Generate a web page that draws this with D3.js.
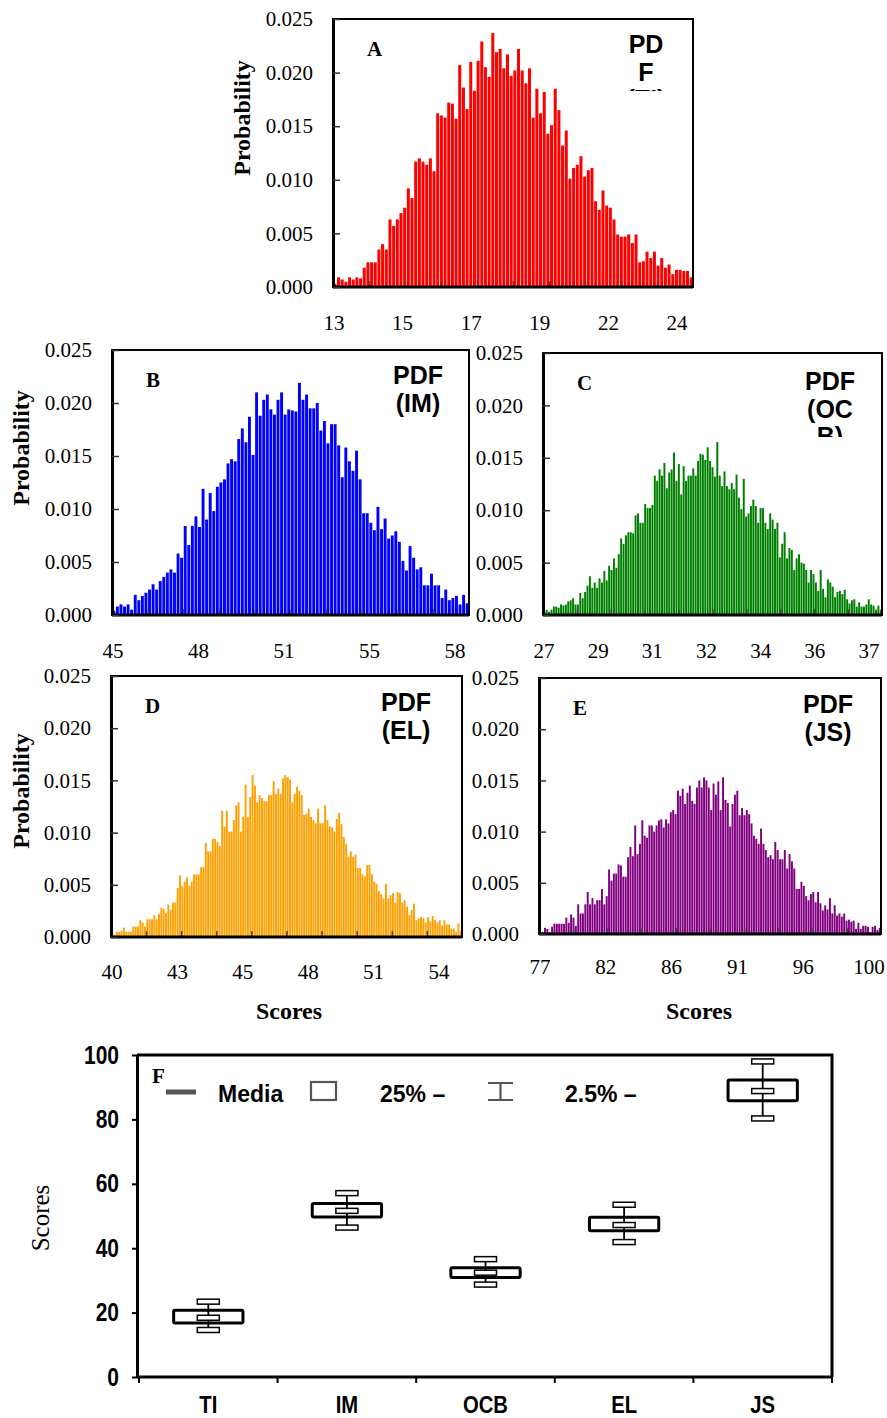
<!DOCTYPE html>
<html>
<head>
<meta charset="utf-8">
<script src="https://cdn.jsdelivr.net/npm/d3@7"></script>
<style>
  body { margin: 0; background: #fff; }
  svg { display: block; }
</style>
</head>
<body>
<script>
// Probability per score bin
const tiProb = [0.0003,0.0009,0.0007,0.0005,0.0009,0.0007,0.0009,0.0008,0.0018,0.0023,
  0.0023,0.0023,0.0035,0.0040,0.0035,0.0063,0.0057,0.0063,0.0069,0.0074,
  0.0092,0.0083,0.0117,0.0120,0.0117,0.0114,0.0120,0.0108,0.0162,0.0160,
  0.0158,0.0172,0.0171,0.0157,0.0207,0.0186,0.0166,0.0210,0.0183,0.0211,
  0.0229,0.0205,0.0196,0.0237,0.0219,0.0222,0.0204,0.0217,0.0197,0.0202,
  0.0222,0.0202,0.0190,0.0204,0.0158,0.0185,0.0162,0.0182,0.0143,0.0151,
  0.0185,0.0165,0.0132,0.0146,0.0101,0.0111,0.0114,0.0122,0.0103,0.0109,
  0.0111,0.0080,0.0072,0.0090,0.0076,0.0074,0.0063,0.0049,0.0047,0.0047,
  0.0049,0.0041,0.0049,0.0023,0.0024,0.0033,0.0027,0.0033,0.0020,0.0027,
  0.0018,0.0021,0.0012,0.0016,0.0016,0.0015,0.0015,0.0009]

const imProb = [0.0004,0.0008,0.0010,0.0008,0.0010,0.0005,0.0019,0.0014,0.0018,0.0021,
  0.0024,0.0029,0.0024,0.0032,0.0036,0.0040,0.0043,0.0040,0.0058,0.0054,
  0.0084,0.0066,0.0084,0.0093,0.0083,0.0119,0.0090,0.0115,0.0098,0.0121,
  0.0125,0.0128,0.0143,0.0147,0.0145,0.0166,0.0176,0.0163,0.0187,0.0151,
  0.0210,0.0188,0.0203,0.0208,0.0194,0.0189,0.0203,0.0210,0.0189,0.0194,
  0.0193,0.0192,0.0219,0.0203,0.0208,0.0195,0.0195,0.0200,0.0174,0.0183,
  0.0162,0.0180,0.0180,0.0160,0.0130,0.0158,0.0145,0.0136,0.0155,0.0128,
  0.0096,0.0096,0.0087,0.0080,0.0102,0.0081,0.0091,0.0072,0.0075,0.0079,
  0.0069,0.0051,0.0042,0.0065,0.0054,0.0043,0.0045,0.0028,0.0028,0.0039,
  0.0028,0.0028,0.0016,0.0024,0.0014,0.0016,0.0018,0.0010,0.0019,0.0011]

const ocbProb = [0.0003,0.0005,0.0003,0.0005,0.0008,0.0008,0.0007,0.0010,0.0009,0.0010,
  0.0013,0.0014,0.0016,0.0010,0.0010,0.0021,0.0016,0.0022,0.0028,0.0037,
  0.0026,0.0031,0.0026,0.0035,0.0031,0.0042,0.0033,0.0047,0.0043,0.0054,
  0.0045,0.0058,0.0073,0.0068,0.0076,0.0079,0.0079,0.0078,0.0095,0.0097,
  0.0088,0.0088,0.0106,0.0102,0.0102,0.0105,0.0133,0.0128,0.0139,0.0133,
  0.0145,0.0121,0.0136,0.0139,0.0155,0.0128,0.0144,0.0115,0.0142,0.0128,
  0.0133,0.0133,0.0140,0.0133,0.0147,0.0154,0.0153,0.0148,0.0160,0.0147,
  0.0141,0.0132,0.0165,0.0133,0.0123,0.0137,0.0123,0.0120,0.0126,0.0120,
  0.0134,0.0112,0.0101,0.0130,0.0094,0.0097,0.0104,0.0110,0.0104,0.0088,
  0.0102,0.0102,0.0088,0.0082,0.0097,0.0091,0.0082,0.0088,0.0055,0.0068,
  0.0079,0.0054,0.0064,0.0062,0.0043,0.0054,0.0058,0.0050,0.0049,0.0043,
  0.0031,0.0043,0.0039,0.0031,0.0023,0.0043,0.0025,0.0017,0.0034,0.0031,
  0.0027,0.0017,0.0022,0.0023,0.0020,0.0024,0.0015,0.0011,0.0014,0.0015,
  0.0008,0.0012,0.0008,0.0008,0.0010,0.0015,0.0010,0.0009,0.0005,0.0009,
  0.0005]

const elProb = [0.0002,0.0002,0.0005,0.0005,0.0006,0.0009,0.0005,0.0005,0.0005,0.0010,
  0.0010,0.0010,0.0016,0.0014,0.0010,0.0017,0.0017,0.0017,0.0021,0.0017,
  0.0022,0.0028,0.0027,0.0023,0.0031,0.0026,0.0033,0.0033,0.0047,0.0059,
  0.0049,0.0053,0.0057,0.0049,0.0053,0.0060,0.0060,0.0060,0.0067,0.0067,
  0.0090,0.0082,0.0082,0.0094,0.0094,0.0091,0.0087,0.0121,0.0106,0.0121,
  0.0101,0.0101,0.0112,0.0126,0.0129,0.0101,0.0115,0.0146,0.0115,0.0134,
  0.0155,0.0145,0.0129,0.0136,0.0133,0.0130,0.0130,0.0136,0.0136,0.0149,
  0.0137,0.0142,0.0137,0.0152,0.0155,0.0153,0.0151,0.0129,0.0137,0.0144,
  0.0140,0.0136,0.0117,0.0118,0.0123,0.0115,0.0112,0.0109,0.0123,0.0109,
  0.0109,0.0126,0.0112,0.0106,0.0105,0.0101,0.0113,0.0119,0.0108,0.0096,
  0.0089,0.0077,0.0082,0.0077,0.0079,0.0066,0.0066,0.0060,0.0058,0.0069,
  0.0069,0.0060,0.0053,0.0051,0.0044,0.0041,0.0037,0.0051,0.0037,0.0040,
  0.0042,0.0033,0.0043,0.0042,0.0033,0.0035,0.0029,0.0021,0.0026,0.0032,
  0.0016,0.0018,0.0019,0.0018,0.0014,0.0019,0.0015,0.0020,0.0016,0.0014,
  0.0016,0.0011,0.0016,0.0012,0.0012,0.0008,0.0008,0.0005,0.0013,0.0006]

const jsProb = [0.0002,0.0002,0.0006,0.0005,0.0002,0.0007,0.0010,0.0010,0.0010,0.0010,
  0.0010,0.0016,0.0011,0.0019,0.0016,0.0008,0.0029,0.0020,0.0020,0.0029,
  0.0041,0.0029,0.0035,0.0029,0.0033,0.0033,0.0044,0.0029,0.0037,0.0063,
  0.0052,0.0059,0.0059,0.0068,0.0067,0.0056,0.0056,0.0075,0.0085,0.0076,
  0.0106,0.0078,0.0088,0.0111,0.0096,0.0094,0.0106,0.0106,0.0100,0.0106,
  0.0111,0.0112,0.0104,0.0112,0.0108,0.0119,0.0121,0.0117,0.0140,0.0135,
  0.0142,0.0127,0.0138,0.0145,0.0130,0.0127,0.0143,0.0150,0.0143,0.0153,
  0.0150,0.0143,0.0121,0.0147,0.0136,0.0149,0.0121,0.0153,0.0131,0.0128,
  0.0105,0.0127,0.0136,0.0140,0.0116,0.0123,0.0116,0.0121,0.0117,0.0108,
  0.0096,0.0093,0.0088,0.0103,0.0088,0.0082,0.0075,0.0077,0.0073,0.0090,
  0.0082,0.0073,0.0073,0.0082,0.0064,0.0078,0.0071,0.0064,0.0044,0.0044,
  0.0051,0.0047,0.0037,0.0033,0.0039,0.0041,0.0031,0.0041,0.0030,0.0023,
  0.0028,0.0024,0.0035,0.0020,0.0028,0.0018,0.0020,0.0017,0.0020,0.0013,
  0.0014,0.0012,0.0013,0.0005,0.0011,0.0005,0.0008,0.0008,0.0007,0.0002,
  0.0007,0.0008,0.0004,0.0006]

// x tick labels of each histogram
const tiLabels = ["13", "15", "17", "19", "22", "24"]
const imLabels = ["45", "48", "51", "55", "58"]
const ocbLabels = ["27", "29", "31", "32", "34", "36", "37"]
const elLabels = ["40", "43", "45", "48", "51", "54"]
const jsLabels = ["77", "82", "86", "91", "96", "100"]
const probTicks = [0, 0.005, 0.010, 0.015, 0.020, 0.025]

// panel F: percentiles of each variable
const boxCats = ["TI", "IM", "OCB", "EL", "JS"]
const p2_5 = [14.6, 46.4, 28.7, 41.9, 80.3]
const q25 = [16.8, 49.7, 30.9, 45.4, 85.8]
const median = [18.4, 51.6, 32.4, 47.2, 88.8]
const q75 = [20.7, 53.9, 33.9, 49.6, 92.2]
const p97_5 = [23.4, 57.1, 36.6, 53.5, 98.0]
const scoreTicks = [0, 20, 40, 60, 80, 100]

const SERIF = '"Liberation Serif", "Times New Roman", serif'
const SANS = '"Liberation Sans", Arial, sans-serif'

const svg = d3.select("body").append("svg")
    .attr("width", 887)
    .attr("height", 1418)

const panels = [
    { letter: "A", data: tiProb, labels: tiLabels, color: "#ff0000", pdf: ["PD", "F", "(TI)"],
      x0: 333, x1: 693, y0: 19, y1: 287, labelEnd: 677, labelY: 330, pdfX: 646, pdfY: 53, clipY: 91, ylab: [250, 118] },
    { letter: "B", data: imProb, labels: imLabels, color: "#0000ff", pdf: ["PDF", "(IM)"],
      x0: 112, x1: 469, y0: 350, y1: 615, labelEnd: 455, labelY: 658, pdfX: 418, pdfY: 384, clipY: 440, ylab: [29, 448] },
    { letter: "C", data: ocbProb, labels: ocbLabels, color: "#008000", pdf: ["PDF", "(OC", "B)"],
      x0: 543, x1: 882, y0: 353, y1: 615, labelEnd: 869, labelY: 658, pdfX: 830, pdfY: 390, clipY: 437, ylab: null },
    { letter: "D", data: elProb, labels: elLabels, color: "#ffa000", pdf: ["PDF", "(EL)"],
      x0: 111, x1: 462, y0: 676, y1: 937, labelEnd: 439, labelY: 979, pdfX: 406, pdfY: 711, clipY: 760, ylab: [29, 791], xlab: [289, 1019] },
    { letter: "E", data: jsProb, labels: jsLabels, color: "#800080", pdf: ["PDF", "(JS)"],
      x0: 539, x1: 881, y0: 678, y1: 934, labelEnd: 869, labelY: 974, pdfX: 828, pdfY: 713, clipY: 760, ylab: null, xlab: [699, 1019] }
]

// squeeze bold sans text, the original uses a narrow face
function narrow(sel, f) {
    sel.each(function () {
        const w = this.getComputedTextLength()
        d3.select(this).attr("textLength", w * f).attr("lengthAdjust", "spacingAndGlyphs")
    })
}

function histogram(p, k) {
    const g = svg.append("g")

    const x = d3.scaleBand()
        .domain(d3.range(p.data.length))
        .range([p.x0, p.x1])
        .paddingInner(0.18)
        .paddingOuter(0.1)
    const y = d3.scaleLinear()
        .domain([0, 0.025])
        .range([p.y1, p.y0])

    g.selectAll(".bar")
        .data(p.data)
        .join("rect")
        .attr("class", "bar")
        .attr("x", (d, i) => x(i))
        .attr("width", x.bandwidth())
        .attr("y", d => y(d))
        .attr("height", d => y(0) - y(d))
        .attr("fill", p.color)

    // small tick marks inside the bottom edge
    const t = d3.scaleLinear().domain([0, 10]).range([p.x0, p.x1])
    g.append("g")
        .attr("transform", `translate(0,${p.y1})`)
        .call(d3.axisBottom(t).tickValues(d3.range(1, 10)).tickSize(-6).tickFormat(""))
        .call(a => a.select(".domain").remove())
        .call(a => a.selectAll("line").attr("stroke", "#444").attr("stroke-width", 1.5))

    // frame
    g.append("rect")
        .attr("x", p.x0).attr("y", p.y0)
        .attr("width", p.x1 - p.x0).attr("height", p.y1 - p.y0)
        .attr("fill", "none").attr("stroke", "#000").attr("stroke-width", 2)
    g.append("line")
        .attr("x1", p.x0).attr("x2", p.x1).attr("y1", p.y1).attr("y2", p.y1)
        .attr("stroke", "#000").attr("stroke-width", 3)

    g.append("g")
        .attr("transform", `translate(${p.x0},0)`)
        .call(d3.axisLeft(y).tickValues(probTicks).tickFormat(d3.format(".3f"))
            .tickSizeInner(-7).tickSizeOuter(0).tickPadding(20))
        .attr("font-family", SERIF)
        .attr("font-size", 21)
        .call(a => a.select(".domain").attr("stroke-width", 3))
        .call(a => a.selectAll("line").attr("stroke", "#333").attr("stroke-width", 1.5))

    // tick labels under the axis
    const lx = d3.scalePoint().domain(p.labels).range([p.x0 + 1, p.labelEnd])
    g.selectAll(".xlab")
        .data(p.labels)
        .join("text")
        .attr("class", "xlab")
        .attr("x", d => lx(d))
        .attr("y", p.labelY)
        .attr("text-anchor", "middle")
        .attr("font-family", SERIF)
        .attr("font-size", 21)
        .text(d => d)

    g.append("text")
        .attr("x", p.x0 + 34)
        .attr("y", p.y0 + 37)
        .attr("font-family", SERIF)
        .attr("font-weight", "bold")
        .attr("font-size", 21)
        .text(p.letter)

    // "PDF (..)" note, clipped like the original text box
    const clipId = "clip" + k
    svg.append("clipPath").attr("id", clipId)
        .append("rect")
        .attr("x", p.x0).attr("y", p.y0)
        .attr("width", p.x1 - p.x0).attr("height", p.clipY - p.y0)
    g.append("g")
        .attr("clip-path", `url(#${clipId})`)
        .selectAll("text")
        .data(p.pdf)
        .join("text")
        .attr("x", p.pdfX)
        .attr("y", (d, i) => p.pdfY + i * 27.5)
        .attr("text-anchor", "middle")
        .attr("font-family", SANS)
        .attr("font-weight", "bold")
        .attr("font-size", 25)
        .text(d => d)

    if (p.ylab) {
        g.append("text")
            .attr("transform", `translate(${p.ylab[0]},${p.ylab[1]}) rotate(-90)`)
            .attr("text-anchor", "middle")
            .attr("font-family", SERIF)
            .attr("font-weight", "bold")
            .attr("font-size", 24)
            .text("Probability")
    }
    if (p.xlab) {
        g.append("text")
            .attr("x", p.xlab[0])
            .attr("y", p.xlab[1])
            .attr("text-anchor", "middle")
            .attr("font-family", SERIF)
            .attr("font-weight", "bold")
            .attr("font-size", 24)
            .text("Scores")
    }
}

panels.forEach(histogram)

// Panel F -- box plot of the five variables
const fx = d3.scaleBand().domain(boxCats).range([139, 832])
const fy = d3.scaleLinear().domain([0, 100]).range([1377, 1055])
const boxes = boxCats.map((c, i) => ({ cat: c, lo: p2_5[i], q1: q25[i], med: median[i], q3: q75[i], hi: p97_5[i] }))

const fg = svg.append("g")

// frame top and right
fg.append("path")
    .attr("d", `M137,${fy(100)}H832V${fy(0)}`)
    .attr("fill", "none").attr("stroke", "#000").attr("stroke-width", 3)

fg.append("g")
    .attr("transform", "translate(137,0)")
    .call(d3.axisLeft(fy).tickValues(scoreTicks).tickSizeInner(5).tickSizeOuter(0).tickPadding(13))
    .attr("font-family", SANS)
    .attr("font-weight", "bold")
    .attr("font-size", 25)
    .call(a => a.select(".domain").attr("stroke-width", 3))
    .call(a => a.selectAll("line").attr("stroke-width", 2))
    .call(a => narrow(a.selectAll("text"), 0.84))

fg.append("line")
    .attr("x1", 137).attr("x2", 832).attr("y1", fy(0)).attr("y2", fy(0))
    .attr("stroke", "#000").attr("stroke-width", 3)
fg.selectAll(".ftick")
    .data(boxCats.map(c => fx(c)).concat([fx.range()[1]]))
    .join("line")
    .attr("class", "ftick")
    .attr("x1", d => d).attr("x2", d => d)
    .attr("y1", fy(0)).attr("y2", fy(0) + 6)
    .attr("stroke", "#000").attr("stroke-width", 2)
fg.selectAll(".fcat")
    .data(boxCats)
    .join("text")
    .attr("class", "fcat")
    .attr("x", d => fx(d) + fx.bandwidth() / 2)
    .attr("y", 1413)
    .attr("text-anchor", "middle")
    .attr("font-family", SANS)
    .attr("font-weight", "bold")
    .attr("font-size", 23)
    .text(d => d)
    .call(s => narrow(s, 0.88))

const boxW = fx.bandwidth() * 0.5
const capW = 22
const capH = 5

const bg = fg.selectAll(".box")
    .data(boxes)
    .join("g")
    .attr("class", "box")
    .attr("transform", d => `translate(${fx(d.cat) + fx.bandwidth() / 2},0)`)

bg.append("line")
    .attr("y1", d => fy(d.hi)).attr("y2", d => fy(d.lo))
    .attr("stroke", "#000").attr("stroke-width", 1.8)
bg.append("rect")
    .attr("x", -boxW / 2).attr("width", boxW)
    .attr("y", d => fy(d.q3)).attr("height", d => fy(d.q1) - fy(d.q3))
    .attr("rx", 1.5)
    .attr("fill", "#fff").attr("stroke", "#000").attr("stroke-width", 3)
bg.append("line")
    .attr("y1", d => fy(d.q3)).attr("y2", d => fy(d.q1))
    .attr("stroke", "#000").attr("stroke-width", 1.8)
for (const key of ["med", "hi", "lo"]) {
    bg.append("rect")
        .attr("x", -capW / 2).attr("width", capW)
        .attr("y", d => fy(d[key]) - capH / 2).attr("height", capH)
        .attr("fill", "#fff").attr("stroke", "#000").attr("stroke-width", 1.5)
}

fg.append("text")
    .attr("transform", "translate(49,1218) rotate(-90)")
    .attr("text-anchor", "middle")
    .attr("font-family", SERIF)
    .attr("font-size", 25)
    .text("Scores")

// legend
fg.append("text")
    .attr("x", 152).attr("y", 1083)
    .attr("font-family", SERIF).attr("font-weight", "bold").attr("font-size", 21)
    .text("F")
fg.append("line")
    .attr("x1", 166).attr("x2", 196).attr("y1", 1092).attr("y2", 1092)
    .attr("stroke", "#555").attr("stroke-width", 5)
fg.append("rect")
    .attr("x", 311).attr("y", 1082).attr("width", 25).attr("height", 18)
    .attr("fill", "none").attr("stroke", "#555").attr("stroke-width", 2.2)
fg.append("path")
    .attr("d", "M488,1083H513M500.5,1083V1100M488,1100H513")
    .attr("fill", "none").attr("stroke", "#555").attr("stroke-width", 2.2)
fg.selectAll(".leg")
    .data([["Media", 218], ["25% \u2013", 380], ["2.5% \u2013", 565]])
    .join("text")
    .attr("class", "leg")
    .attr("x", d => d[1]).attr("y", 1102)
    .attr("font-family", SANS).attr("font-weight", "bold").attr("font-size", 23)
    .text(d => d[0])
</script>
</body>
</html>
